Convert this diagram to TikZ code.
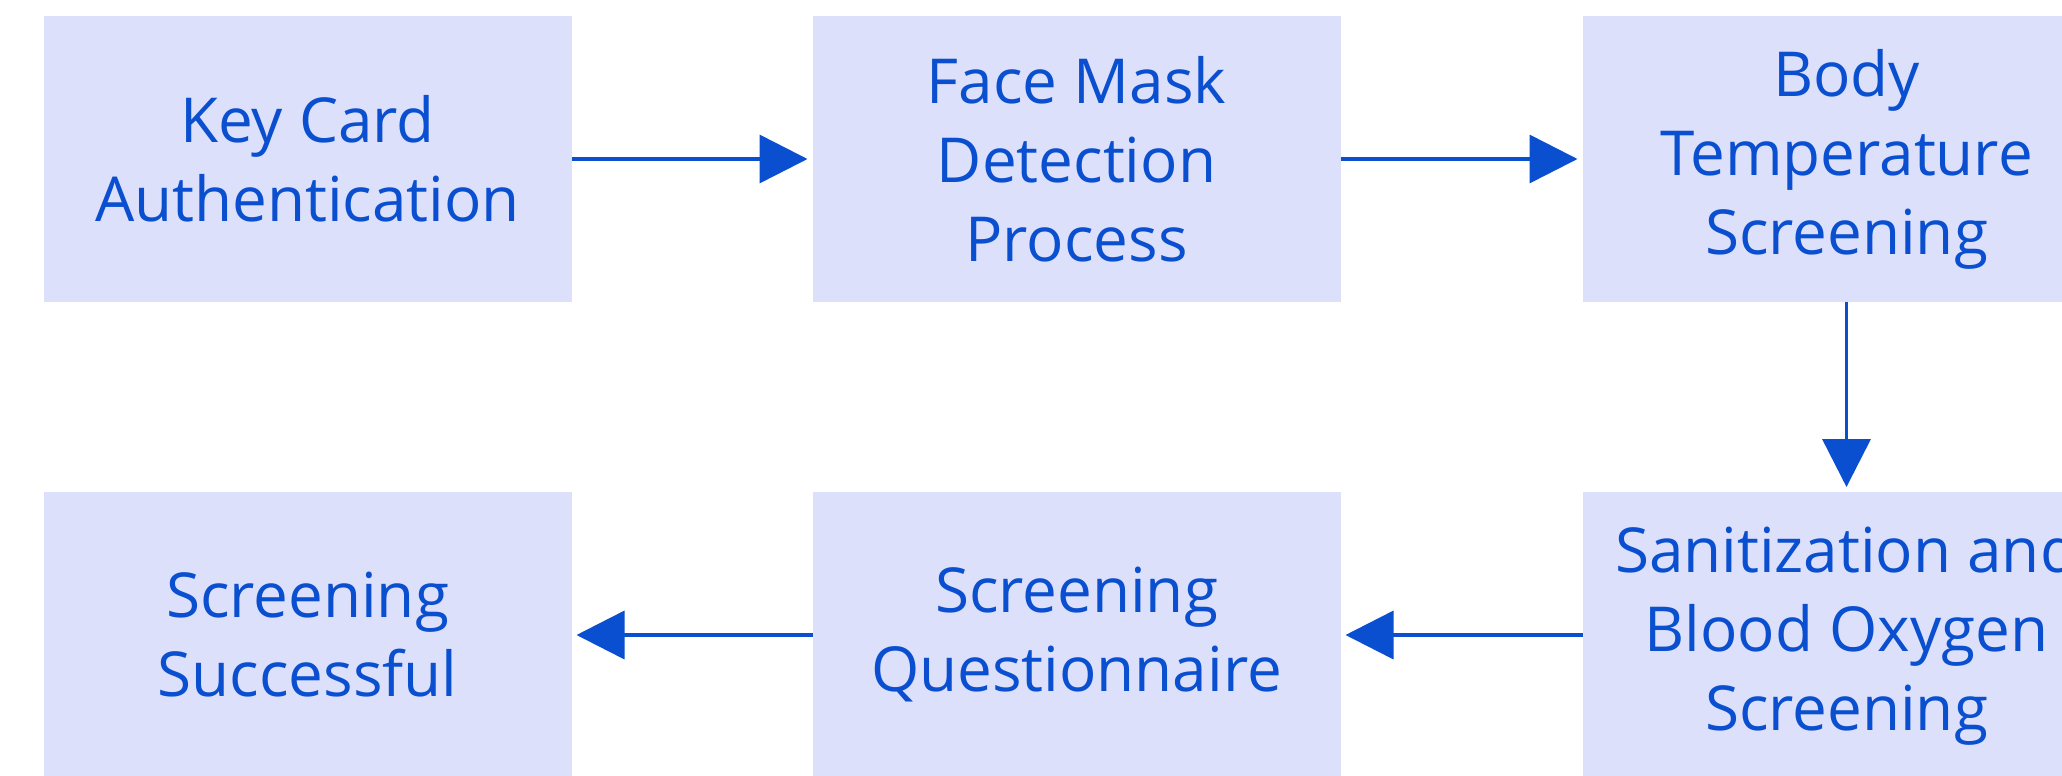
\documentclass[tikz,border=0pt]{standalone}
\usepackage{fontspec}
\setmainfont{Open Sans}
\usetikzlibrary{arrows.meta}
\definecolor{boxfill}{HTML}{DCE0FB}
\definecolor{ink}{HTML}{0A4FCF}
\begin{document}
\begin{tikzpicture}[x=1pt,y=-1pt,
  stepbox/.style={fill=boxfill, draw=none, minimum width=528pt, minimum height=286pt,
    inner sep=0pt, outer sep=0pt, align=center, text=ink,
    font=\fontsize{62}{79}\selectfont},
  flow/.style={draw=ink, line width=3.6pt, -{Triangle[length=48pt,width=48pt]}, shorten >=5pt}]
\useasboundingbox (0,0) rectangle (2062,776);
\fill[white] (0,0) rectangle (2062,776);
\node[stepbox] (a) at (307.5,159) {Key Card\\Authentication};
\node[stepbox] (b) at (1076.5,159) {Face Mask\\Detection\\Process};
\node[stepbox] (c) at (1846.5,159) {Body\\Temperature\\Screening};
\node[stepbox] (d) at (1846.5,635) {Sanitization and\\Blood Oxygen\\Screening};
\node[stepbox] (e) at (1076.5,635) {Screening\\Questionnaire};
\node[stepbox] (f) at (307.5,635) {Screening\\Successful};
\draw[flow] (a.east) -- (b.west);
\draw[flow] (b.east) -- (c.west);
\draw[flow] (c.south) -- (d.north);
\draw[flow] (d.west) -- (e.east);
\draw[flow] (e.west) -- (f.east);
\end{tikzpicture}
\end{document}
